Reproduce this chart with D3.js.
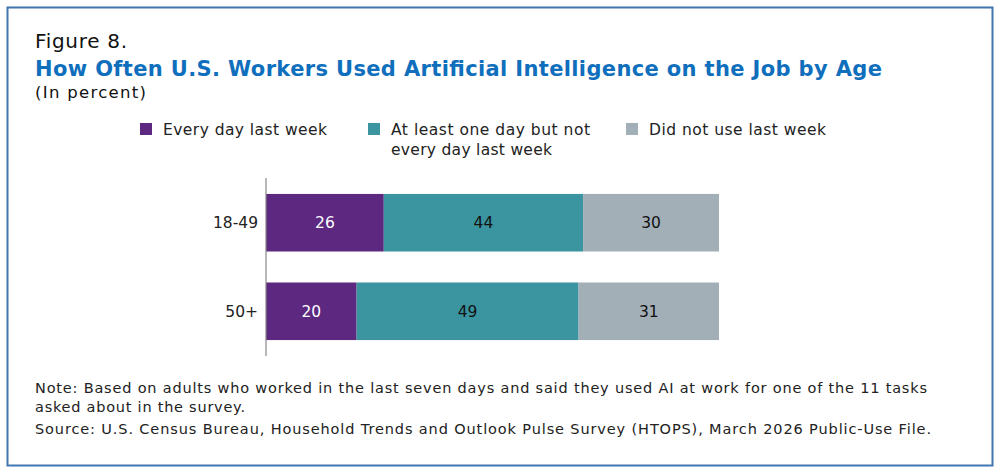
<!DOCTYPE html>
<html><head><meta charset="utf-8">
<script src="https://cdn.jsdelivr.net/npm/d3@7"></script>
<style>body{margin:0;background:#fff}text{font-family:"DejaVu Sans",sans-serif}</style>
</head><body><svg id="c" width="1000" height="474"></svg>
<script>
var ages = ["18-49", "50+"];
var seriesNames = ["Every day last week", "At least one day but not every day last week", "Did not use last week"];
var everyDay = [26, 20];
var someDays = [44, 49];
var notUsed = [30, 31];
var colors = ["#5c2880", "#3a95a0", "#a2afb7"];

var svg = d3.select("#c");
svg.append("rect").attr("x", 7.5).attr("y", 7.5).attr("width", 985).attr("height", 458)
  .attr("fill", "none").attr("stroke", "#3f76b0").attr("stroke-width", 2);

function txt(x, y, size, t, len) {
  var e = svg.append("text").attr("x", x).attr("y", y).attr("font-size", size).attr("fill", "#222").text(t);
  if (len) e.attr("textLength", len).attr("lengthAdjust", "spacing");
  return e;
}
txt(35, 48, 20, "Figure 8.", 92).attr("fill", "#111");
txt(35, 76, 21, "How Often U.S. Workers Used Artificial Intelligence on the Job by Age", 847)
  .attr("font-weight", "bold").attr("fill", "#0f6fbd");
txt(35, 98, 16.5, "(In percent)", 111).attr("fill", "#111");

// legend
var leg = [
  {x: 140, lines: ["Every day last week"], len: [164]},
  {x: 368, lines: ["At least one day but not", "every day last week"], len: [199, 161]},
  {x: 626, lines: ["Did not use last week"], len: [177]}
];
leg.forEach(function (d, i) {
  svg.append("rect").attr("x", d.x).attr("y", 123).attr("width", 12).attr("height", 12).attr("fill", colors[i]);
  d.lines.forEach(function (l, j) {
    txt(d.x + 23, 135 + j * 20, 15.5, l, d.len[j]);
  });
});

var x = d3.scaleLinear().domain([0, 100]).range([266, 719]);
var y = d3.scaleBand().domain(ages).range([178, 356]).paddingInner(0.35).paddingOuter(0.18);

var rows = ages.map(function (a, i) { return {age: a, v: [everyDay[i], someDays[i], notUsed[i]]}; });
rows.forEach(function (r) {
  var acc = 0;
  r.v.forEach(function (v, k) {
    svg.append("rect").attr("x", x(acc)).attr("y", y(r.age)).attr("width", x(acc + v) - x(acc))
      .attr("height", y.bandwidth()).attr("fill", colors[k]);
    svg.append("text").attr("x", (x(acc) + x(acc + v)) / 2).attr("y", y(r.age) + y.bandwidth() / 2)
      .attr("dy", "0.35em").attr("text-anchor", "middle").attr("font-size", 15.5)
      .attr("fill", k === 0 ? "#fff" : "#111").text(v);
    acc += v;
  });
  svg.append("text").attr("x", 258).attr("y", y(r.age) + y.bandwidth() / 2).attr("dy", "0.35em")
    .attr("text-anchor", "end").attr("font-size", 15.5).attr("fill", "#222").text(r.age);
});
svg.append("line").attr("x1", 266).attr("x2", 266).attr("y1", 178).attr("y2", 356).attr("stroke", "#888").attr("stroke-width", 1.2);

var notes = ["Note: Based on adults who worked in the last seven days and said they used AI at work for one of the 11 tasks",
  "asked about in the survey.",
  "Source: U.S. Census Bureau, Household Trends and Outlook Pulse Survey (HTOPS), March 2026 Public-Use File."];
var noteLen = [892, 210, 896];
notes.forEach(function (t, i) {
  txt(35, 393 + i * 19 + (i == 2 ? 3 : 0), 14.5, t, noteLen[i]);
});
</script></body></html>
